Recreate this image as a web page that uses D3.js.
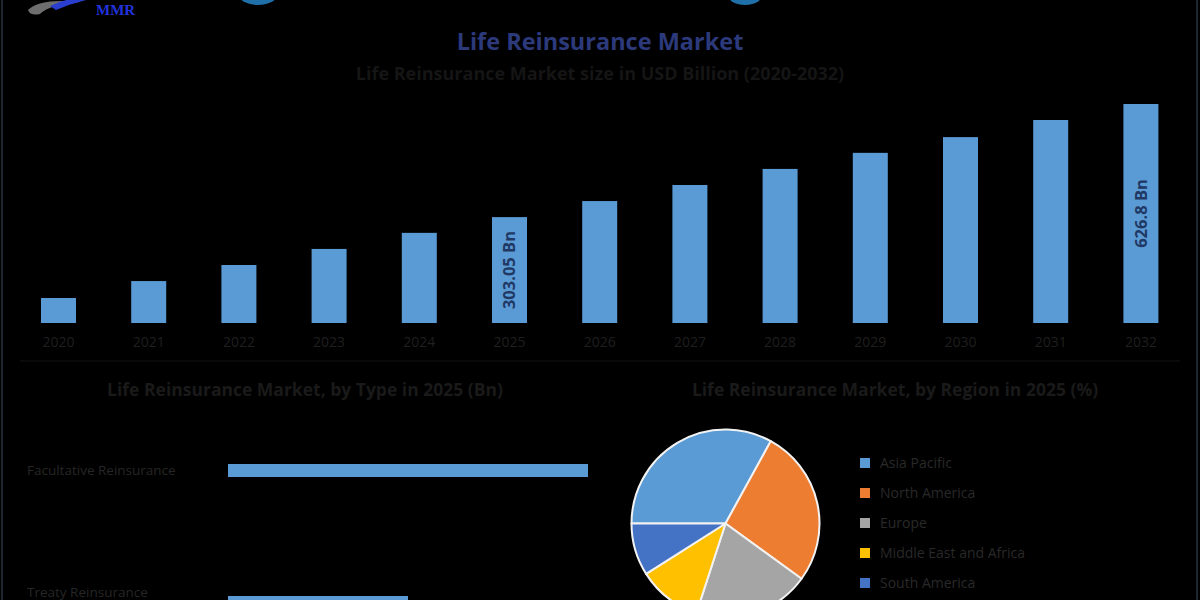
<!DOCTYPE html>
<html>
<head>
<meta charset="utf-8">
<script src="https://cdn.jsdelivr.net/npm/d3@7"></script>
<style>
  html, body { margin: 0; padding: 0; background: #000; }
  svg { display: block; }
</style>
</head>
<body>
<svg id="chart" width="1200" height="600"></svg>
<script>
// ---------- data ----------
const years = ["2020","2021","2022","2023","2024","2025","2026","2027","2028","2029","2030","2031","2032"];
const marketSize = [71.5, 120, 166, 212, 258, 303.05, 349, 395, 441, 487, 532, 581, 626.8];
const labelledYears = { "2025": "303.05 Bn", "2032": "626.8 Bn" };

const types = ["Facultative Reinsurance", "Treaty Reinsurance"];
const typeValues = [202, 101];

const regions = ["Asia Pacific", "North America", "Europe", "Middle East and Africa", "South America"];
const regionShares = [33, 27, 20, 11, 9];
const regionColors = ["#5B9BD5", "#ED7D31", "#A5A5A5", "#FFC000", "#4472C4"];

const mainTitle = "Life Reinsurance Market";
const subTitle = "Life Reinsurance Market size in USD Billion (2020-2032)";
const typeTitle = "Life Reinsurance Market, by Type in 2025 (Bn)";
const regionTitle = "Life Reinsurance Market, by Region in 2025 (%)";

// ---------- drawing ----------
const svg = d3.select("#chart");
const font = "'Open Sans', 'DejaVu Sans', sans-serif";

svg.append("rect").attr("width", 1200).attr("height", 600).attr("fill", "#000");

// frame lines
svg.append("line").attr("x1", 2).attr("x2", 2).attr("y1", 0).attr("y2", 600)
  .attr("stroke", "#1c2530").attr("stroke-width", 2);
svg.append("line").attr("x1", 1197).attr("x2", 1197).attr("y1", 0).attr("y2", 600)
  .attr("stroke", "#1c2530").attr("stroke-width", 2);
svg.append("line").attr("x1", 20).attr("x2", 1180).attr("y1", 361).attr("y2", 361)
  .attr("stroke", "#121212").attr("stroke-width", 1);

// logo fragments (cut off at top)
const logo = svg.append("g");
logo.append("path").attr("d", "M28,10 Q40,-2 80,2 Q50,4 40,14 Q30,16 28,10 Z").attr("fill", "#8a8a8a").attr("opacity", 0.8);
logo.append("path").attr("d", "M50,6 Q70,-4 86,0 Q70,4 56,10 Z").attr("fill", "#2a3fd0");
logo.append("text").attr("x", 96).attr("y", 15).attr("font-family", "'Liberation Serif', serif")
  .attr("font-size", 15).attr("font-weight", "bold").attr("fill", "#2233dd").text("MMR");
logo.append("ellipse").attr("cx", 258).attr("cy", -8).attr("rx", 21).attr("ry", 13).attr("fill", "#1f6fa8");
logo.append("ellipse").attr("cx", 745).attr("cy", -8).attr("rx", 19).attr("ry", 13).attr("fill", "#1f6fa8");

// titles
svg.append("text").attr("x", 600).attr("y", 50).attr("text-anchor", "middle")
  .attr("font-family", font).attr("font-weight", "bold").attr("font-size", 23.5)
  .attr("fill", "#2c3a7c").text(mainTitle);
svg.append("text").attr("x", 600).attr("y", 80).attr("text-anchor", "middle")
  .attr("font-family", font).attr("font-weight", "bold").attr("font-size", 18)
  .attr("fill", "#151515").text(subTitle);

// ---------- main bar chart ----------
const baseY = 323;
const x = d3.scaleBand().domain(years).range([13.4, 1186]).paddingInner(0.612).paddingOuter(0.306);
const y = d3.scaleLinear().domain([0, 626.8]).range([baseY, 104]);

const bars = svg.append("g");
bars.selectAll("rect").data(years).join("rect")
  .attr("x", d => x(d))
  .attr("y", (d, i) => y(marketSize[i]))
  .attr("width", x.bandwidth())
  .attr("height", (d, i) => baseY - y(marketSize[i]))
  .attr("fill", "#5B9BD5");

bars.selectAll("text.val").data(years.filter(d => labelledYears[d])).join("text")
  .attr("class", "val")
  .attr("transform", d => {
    const i = years.indexOf(d);
    const cx = x(d) + x.bandwidth() / 2;
    const cy = (y(marketSize[i]) + baseY) / 2;
    return `translate(${cx},${cy}) rotate(-90)`;
  })
  .attr("text-anchor", "middle").attr("dy", "0.35em")
  .attr("font-family", font).attr("font-weight", "bold").attr("font-size", 16.5)
  .attr("fill", "#1F3864").text(d => labelledYears[d]);

const xAxis = svg.append("g").attr("transform", `translate(0,${baseY})`)
  .call(d3.axisBottom(x).tickSize(0).tickPadding(14));
xAxis.select(".domain").remove();
xAxis.selectAll("text").attr("font-family", font).attr("font-size", 14).attr("fill", "#1f1f1f");

// ---------- type bar chart ----------
svg.append("text").attr("x", 305).attr("y", 396).attr("text-anchor", "middle")
  .attr("font-family", font).attr("font-weight", "bold").attr("font-size", 17.5)
  .attr("fill", "#1a1a1a").text(typeTitle);

const tx = d3.scaleLinear().domain([0, 202]).range([228, 588]);
const ty = d3.scaleBand().domain(types).range([398, 675]).paddingInner(0.9015).paddingOuter(0.5);

const tb = svg.append("g");
tb.selectAll("rect").data(types).join("rect")
  .attr("x", tx(0))
  .attr("y", d => ty(d))
  .attr("width", (d, i) => tx(typeValues[i]) - tx(0))
  .attr("height", ty.bandwidth())
  .attr("fill", "#5B9BD5");
tb.selectAll("text").data(types).join("text")
  .attr("x", 27)
  .attr("y", d => Math.min(ty(d) + ty.bandwidth() / 2 + 4.5, 597))
  .attr("font-family", font).attr("font-size", 13.5).attr("fill", "#262626")
  .text(d => d);

// ---------- pie ----------
svg.append("text").attr("x", 895).attr("y", 396).attr("text-anchor", "middle")
  .attr("font-family", font).attr("font-weight", "bold").attr("font-size", 17.5)
  .attr("fill", "#1a1a1a").text(regionTitle);

const pie = d3.pie().sort(null).startAngle(-Math.PI / 2).endAngle(3 * Math.PI / 2);
const arc = d3.arc().innerRadius(0).outerRadius(94);
const pg = svg.append("g").attr("transform", "translate(725.5,523.5)");
pg.selectAll("path").data(pie(regionShares)).join("path")
  .attr("d", arc)
  .attr("fill", (d, i) => regionColors[i])
  .attr("stroke", "#f2f2f2").attr("stroke-width", 2).attr("stroke-linejoin", "round");

const lg = svg.append("g");
const ly = d3.scalePoint().domain(regions).range([463, 583]);
lg.selectAll("rect").data(regions).join("rect")
  .attr("x", 860).attr("y", d => ly(d) - 5).attr("width", 10).attr("height", 10)
  .attr("fill", (d, i) => regionColors[i]);
lg.selectAll("text").data(regions).join("text")
  .attr("x", 880).attr("y", d => ly(d)).attr("dy", "0.35em")
  .attr("font-family", font).attr("font-size", 14).attr("fill", "#292929")
  .text(d => d);
</script>
</body>
</html>
